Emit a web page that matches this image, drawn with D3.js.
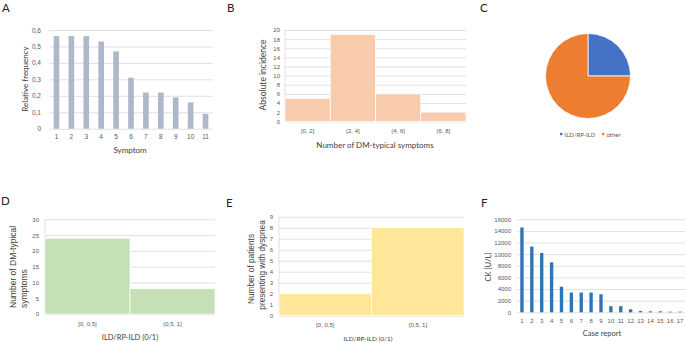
<!DOCTYPE html>
<html>
<head>
<meta charset="utf-8">
<script src="https://cdn.jsdelivr.net/npm/d3@7"></script>
<style>
  body { margin: 0; background: #fff; }
  svg { display: block; font-family: Lato, "Open Sans", sans-serif; }
  .tick text { fill: #595959; }
  .grid line { stroke: #d9d9d9; stroke-width: 0.8; }
  .title { fill: #404040; }
  .letter { fill: #222; font-size: 11.5px; }
</style>
</head>
<body>
<script>

// DATA

// A - relative frequency of symptoms
const symptoms = ["1", "2", "3", "4", "5", "6", "7", "8", "9", "10", "11"];
const relFrequency = [0.5625, 0.5625, 0.5625, 0.53, 0.47, 0.31, 0.22, 0.22, 0.19, 0.16, 0.09];

// B - number of DM-typical symptoms (histogram)
const symptomBins = ["[0, 2]", "(2, 4]", "(4, 6]", "(6, 8]"];
const symptomCounts = [5, 19, 6, 2];

// C - pie
const pieLabels = ["ILD/RP-ILD", "other"];
const pieValues = [8, 24];

// D / E - by ILD/RP-ILD
const ildBins = ["[0, 0,5]", "(0,5, 1]"];
const dmSymptoms = [24, 8];
const dyspnea = [2, 8];

// F - CK per case report
const caseReports = ["1", "2", "3", "4", "5", "6", "7", "8", "9", "10", "11", "12", "13", "14", "15", "16", "17"];
const ckValues = [14600, 11300, 10200, 8600, 4400, 3400, 3400, 3400, 3100, 1050, 1050, 520, 230, 170, 170, 110, 110];

let svg = d3.select("body").append("svg")
    .attr("width", 685)
    .attr("height", 342);

const comma = d => d === 0 ? "0" : d.toFixed(1).replace(".", ",");

// draws one bar / histogram panel
function barPanel(p) {
    let x = d3.scaleBand()
        .domain(p.cats)
        .range([p.x0, p.x1])
        .paddingInner(p.pad)
        .paddingOuter(p.pad / 2);

    let y = d3.scaleLinear()
        .domain([0, p.max])
        .range([p.yBot, p.yTop]);

    let y_axis = d3.axisLeft(y)
        .tickValues(d3.range(0, p.max + p.step / 2, p.step))
        .tickSize(-(p.x1 - p.x0))
        .tickPadding(p.yPad)
        .tickFormat(p.fmt || d3.format("d"));

    let gy = svg.append("g")
        .attr("class", "grid")
        .attr("transform", "translate(" + p.x0 + ",0)")
        .call(y_axis);
    gy.select(".domain").remove();
    gy.selectAll("text").style("font-size", p.tickFont + "px");

    if (p.leftLine) {
        svg.append("line")
            .attr("x1", p.x0).attr("x2", p.x0)
            .attr("y1", p.yTop).attr("y2", p.yBot)
            .attr("stroke", "#d9d9d9").attr("stroke-width", 0.8);
    }

    svg.append("g")
        .selectAll("rect")
        .data(p.vals)
        .join("rect")
        .attr("x", (d, i) => x(p.cats[i]))
        .attr("width", x.bandwidth())
        .attr("y", d => y(d))
        .attr("height", d => y(0) - y(d))
        .attr("fill", p.color)
        .attr("stroke", p.pad === 0 ? "#fff" : "none")
        .attr("stroke-width", 0.7);

    let x_axis = d3.axisBottom(x)
        .tickSize(0)
        .tickPadding(p.xPad);

    let gx = svg.append("g")
        .attr("transform", "translate(0," + p.yBot + ")")
        .call(x_axis);
    gx.select(".domain").remove();
    gx.selectAll("text").style("font-size", p.tickFont + "px");
}

function title(txt, x, y, size, rotate, anchor) {
    svg.append("text")
        .attr("class", "title")
        .attr("transform", "translate(" + x + "," + y + ")" + (rotate ? " rotate(-90)" : ""))
        .attr("text-anchor", anchor || "middle")
        .attr("dominant-baseline", "central")
        .style("font-size", size + "px")
        .text(txt);
}

function letter(txt, x, y) {
    svg.append("text").attr("class", "letter").attr("x", x).attr("y", y).text(txt);
}

// A
barPanel({ cats: symptoms, vals: relFrequency, x0: 49, x1: 213, yTop: 30, yBot: 128.7,
    max: 0.6, step: 0.1, fmt: comma, color: "#adb9ca", pad: 0.62, yPad: 8, xPad: 6, tickFont: 6.5 });
title("Symptom", 130, 149.5, 8);
title("Relative frequency", 25, 79, 8, true);
letter("A", 2, 12);

// B
barPanel({ cats: symptomBins, vals: symptomCounts, x0: 285, x1: 466, yTop: 30, yBot: 121.3,
    max: 20, step: 2, color: "#f8cbad", pad: 0, yPad: 5, xPad: 7, tickFont: 6 , leftLine: true });
title("Number of DM-typical symptoms", 375, 145, 8);
title("Absolute incidence", 263, 75, 8.5, true);
letter("B", 227, 12);

// C
let pie = d3.pie().sort(null)(pieValues);
let arc = d3.arc().innerRadius(0).outerRadius(42.5);
const pieColors = d3.scaleOrdinal().domain(pieLabels).range(["#4472c4", "#ed7d31"]);

svg.append("g")
    .attr("transform", "translate(588,76)")
    .selectAll("path")
    .data(pie)
    .join("path")
    .attr("d", arc)
    .attr("fill", (d, i) => pieColors(pieLabels[i]))
    .attr("stroke", "#fff")
    .attr("stroke-width", 0.8);

let legend = svg.append("g")
    .selectAll("g")
    .data(pieLabels)
    .join("g")
    .attr("transform", (d, i) => "translate(" + [560, 602][i] + ",134)");
legend.append("rect").attr("x", 0).attr("y", -1.2).attr("width", 2.4).attr("height", 2.4)
    .attr("fill", d => pieColors(d));
legend.append("text").attr("x", 4.5).attr("dominant-baseline", "central")
    .style("font-size", "6px").attr("fill", "#595959").text(d => d);
letter("C", 480, 12);

// D
barPanel({ cats: ildBins, vals: dmSymptoms, x0: 45, x1: 215, yTop: 219.3, yBot: 314,
    max: 30, step: 5, color: "#c5e0b4", pad: 0, yPad: 6, xPad: 7.5, tickFont: 6, leftLine: true });
title("ILD/RP-ILD (0/1)", 130, 337, 7.5);
svg.append("g").style("font-family", "'Liberation Sans', Arial, sans-serif").call(g => {
    g.append("text").attr("class", "title").attr("transform", "translate(13,308) rotate(-90)")
        .attr("dominant-baseline", "central").style("font-size", "8.5px").text("Number of DM-typical");
    g.append("text").attr("class", "title").attr("transform", "translate(24,308) rotate(-90)")
        .attr("dominant-baseline", "central").style("font-size", "8.5px").text("symptoms");
});
letter("D", 1, 205);

// E
barPanel({ cats: ildBins, vals: dyspnea, x0: 279, x1: 464, yTop: 216.7, yBot: 315.7,
    max: 9, step: 1, color: "#ffe699", pad: 0, yPad: 6, xPad: 7, tickFont: 6, leftLine: true });
title("ILD/RP-ILD (0/1)", 368, 338, 6.5);
svg.append("g").style("font-family", "'Liberation Sans', Arial, sans-serif").call(g => {
    g.append("text").attr("class", "title").attr("transform", "translate(251,269) rotate(-90)")
        .attr("text-anchor", "middle").attr("dominant-baseline", "central")
        .style("font-size", "8.3px").text("Number of patients");
    g.append("text").attr("class", "title").attr("transform", "translate(262,265) rotate(-90)")
        .attr("text-anchor", "middle").attr("dominant-baseline", "central")
        .style("font-size", "8.3px").text("presenting with dyspnea");
});
letter("E", 226, 207);

// F
barPanel({ cats: caseReports, vals: ckValues, x0: 517, x1: 685, yTop: 219.3, yBot: 312.3,
    max: 16000, step: 2000, color: "#2e75b6", pad: 0.66, yPad: 6, xPad: 6, tickFont: 6 });
title("Case report", 602, 333, 7.5);
title("CK [U/L]", 488, 267, 7.5, true);
letter("F", 481, 207);

</script>
</body>
</html>
